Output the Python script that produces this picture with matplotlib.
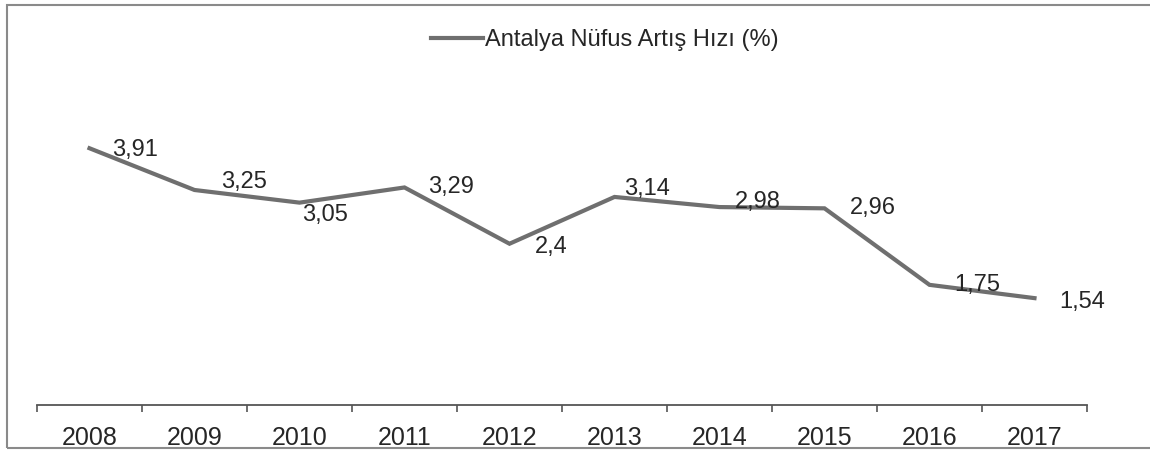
import matplotlib
matplotlib.use("Agg")
import matplotlib.pyplot as plt
from matplotlib.patches import Rectangle
from matplotlib.lines import Line2D

years = ["2008", "2009", "2010", "2011", "2012", "2013", "2014", "2015", "2016", "2017"]
growth = [3.91, 3.25, 3.05, 3.29, 2.4, 3.14, 2.98, 2.96, 1.75, 1.54]
series_name = "Antalya Nüfus Artış Hızı (%)"

# label offsets (points) relative to each point, label left-aligned
label_offsets = [(16, -1), (19, 6), (2, -9), (17, 0), (18, -2), (7, 6), (11, 4), (18, 0), (18, 0), (18, -3)]

plt.rcParams['font.family'] = ['Liberation Sans', 'DejaVu Sans']
line_color = '#6f6f6f'
text_color = '#262626'

fig = plt.figure(figsize=(11.5, 4.5), dpi=100)
ax = fig.add_axes([37 / 1150, 45 / 450, 1050 / 1150, 332 / 450])

x = list(range(len(years)))
ax.plot(x, growth, color=line_color, linewidth=3, solid_joinstyle='miter')

for i, v in enumerate(growth):
    lbl = f"{v:g}".replace('.', ',')
    ax.annotate(lbl, (x[i], v), xytext=label_offsets[i], textcoords='offset points',
                ha='left', va='center', fontsize=17, color=text_color)

ax.set_xlim(-0.5, len(years) - 0.5)
ax.set_ylim(-0.15, 5.1)

for s in ['top', 'right', 'left']:
    ax.spines[s].set_visible(False)
ax.spines['bottom'].set_color('#555555')
ax.spines['bottom'].set_linewidth(1.3)

ax.set_yticks([])
ax.set_xticks(x)
ax.set_xticklabels(years, fontsize=18, color=text_color)
ax.tick_params(axis='x', which='major', length=0, pad=15)
ax.set_xticks([i - 0.5 for i in range(len(years) + 1)], minor=True)
ax.tick_params(axis='x', which='minor', length=5, width=1.2, color='#555555', direction='out')

handle = Line2D([], [], color=line_color, linewidth=3)
fig.legend([handle], [series_name], loc='center', bbox_to_anchor=(605 / 1150, 1 - 40 / 450),
           frameon=False, fontsize=17, handlelength=2.2, handletextpad=0.1,
           labelcolor=text_color)

# outer frame around the chart area
fig.patches.append(Rectangle((7 / 1150, 2 / 450), 1.2, 443 / 450, transform=fig.transFigure,
                             fill=False, edgecolor='#8a8a8a', linewidth=1.5))

fig.savefig("out.png", dpi=100)
